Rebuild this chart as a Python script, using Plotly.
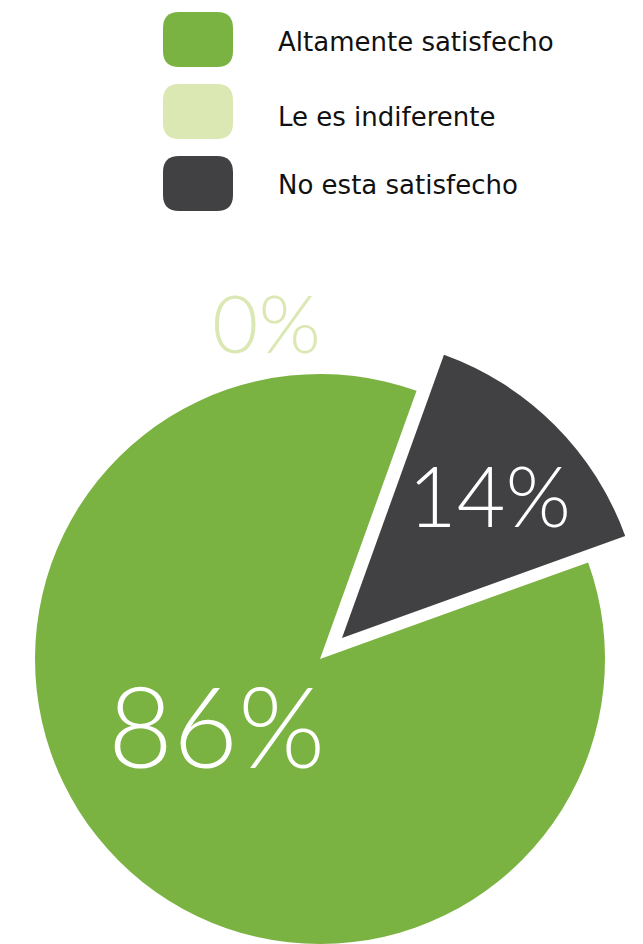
import plotly.graph_objects as go

# Survey results
labels = ["Altamente satisfecho", "Le es indiferente", "No esta satisfecho"]
values = [86, 0, 14]
colors = ["#7bb342", "#dbe8b4", "#414143"]

W, H = 643, 944
total = sum(values)
dark_share = values[2] / total
# Centre the dark wedge on the 45 degree direction, slices drawn clockwise
rotation = 45 + 180 * dark_share


def px_x(x):
    return x / W


def px_y(y):
    return 1 - y / H


clear = "rgba(0,0,0,0)"

fig = go.Figure()

# Main circle: green (and the empty "indiferente" slice)
fig.add_trace(go.Pie(
    labels=labels, values=values, sort=False, direction="clockwise",
    rotation=rotation, textinfo="none", hoverinfo="label+percent",
    marker=dict(colors=[colors[0], colors[1], clear], line=dict(width=0)),
    domain=dict(x=[px_x(34), px_x(606)], y=[0, px_y(374)]),
    showlegend=False,
))

# Detached dark wedge, slightly larger and pushed out along its bisector
fig.add_trace(go.Pie(
    labels=labels, values=values, sort=False, direction="clockwise",
    rotation=rotation, textinfo="none", hoverinfo="label+percent",
    marker=dict(colors=[clear, clear, colors[2]], line=dict(width=0)),
    domain=dict(x=[px_x(342 - 301), px_x(643)], y=[px_y(638 + 301), px_y(638 - 301)]),
    showlegend=False,
))

# Legend: rounded swatches + labels
shapes = []
annotations = []
sw_x0, sw_x1 = 163, 233
sw_tops = [12, 84, 156]
sw_h = 55
rad = 16
text_y = [42, 117, 185]
for lab, col, top, ty in zip(labels, colors, sw_tops, text_y):
    x0, x1, y0, y1 = sw_x0, sw_x1, top, top + sw_h
    pts = [
        ("M", x0 + rad, y0), ("L", x1 - rad, y0), ("Q", x1, y0, x1, y0 + rad),
        ("L", x1, y1 - rad), ("Q", x1, y1, x1 - rad, y1), ("L", x0 + rad, y1),
        ("Q", x0, y1, x0, y1 - rad), ("L", x0, y0 + rad), ("Q", x0, y0, x0 + rad, y0),
    ]
    path = ""
    for p in pts:
        cmd, coords = p[0], p[1:]
        parts = []
        for i in range(0, len(coords), 2):
            parts.append(f"{px_x(coords[i]):.5f},{px_y(coords[i + 1]):.5f}")
        path += cmd + " ".join(parts) + " "
    path += "Z"
    shapes.append(dict(type="path", path=path, xref="paper", yref="paper",
                       fillcolor=col, line=dict(width=0), layer="above"))
    annotations.append(dict(text=lab, x=px_x(276), y=px_y(ty), xref="paper", yref="paper",
                            xanchor="left", yanchor="middle", showarrow=False,
                            font=dict(family="DejaVu Sans", size=26, color="#111111")))

# Percentage labels
pct_font = "Lato"
annotations.append(dict(text=f"{values[0]}%", x=px_x(216), y=px_y(724), xref="paper", yref="paper",
                        xanchor="center", yanchor="middle", showarrow=False,
                        font=dict(family=pct_font, size=112, color="white", weight=300)))
annotations.append(dict(text=f"{values[2]}%", x=px_x(489), y=px_y(494), xref="paper", yref="paper",
                        xanchor="center", yanchor="middle", showarrow=False,
                        font=dict(family=pct_font, size=84, color="white", weight=300)))
annotations.append(dict(text=f"{values[1]}%", x=px_x(266), y=px_y(322), xref="paper", yref="paper",
                        xanchor="center", yanchor="middle", showarrow=False,
                        font=dict(family=pct_font, size=80, color=colors[1], weight=300)))

fig.update_layout(
    width=W, height=H,
    margin=dict(l=0, r=0, t=0, b=0),
    paper_bgcolor="white", plot_bgcolor="white",
    shapes=shapes, annotations=annotations,
    showlegend=False,
)

fig.write_html("out.html")
